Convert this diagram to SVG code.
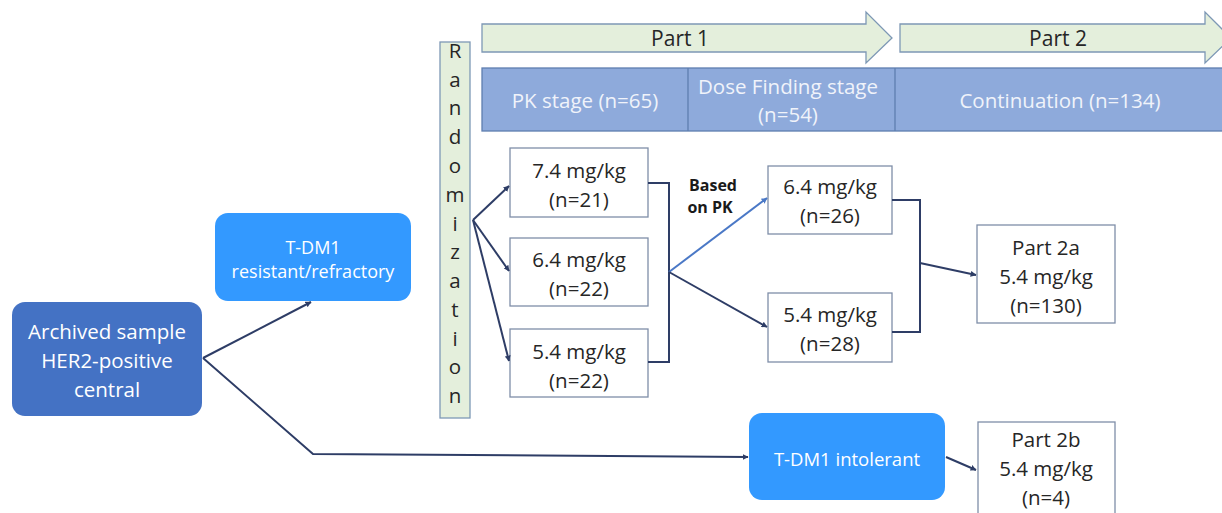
<svg xmlns="http://www.w3.org/2000/svg" width="1222" height="513" viewBox="0 0 1222 513">
<defs>
<style>
text{font-family:"Open Sans","Noto Sans","Liberation Sans",sans-serif;text-anchor:middle;dominant-baseline:central}
.box{fill:#ffffff;stroke:#7f8ea8;stroke-width:1.3}
.dk{fill:#262626;font-size:20.5px}
.wt{fill:#ffffff;font-size:20.5px}
.stage{fill:#f0f3fa;font-size:20.5px}
.ln{fill:none;stroke:#2e3d66;stroke-width:2}
.arr{fill:#e4efdc;stroke:#7d98b5;stroke-width:1.3}
</style>
<marker id="ah" viewBox="0 0 10 10" refX="9" refY="5" markerWidth="6" markerHeight="6" orient="auto" markerUnits="userSpaceOnUse" >
<path d="M0,0 L10,5 L0,10 z" fill="#2e3d66"/>
</marker>
<marker id="ahb" viewBox="0 0 10 10" refX="9" refY="5" markerWidth="6" markerHeight="6" orient="auto" markerUnits="userSpaceOnUse">
<path d="M0,0 L10,5 L0,10 z" fill="#4a78c6"/>
</marker>
</defs>
<rect width="1222" height="513" fill="#ffffff"/>

<g id="part1">
<path class="arr" d="M482,24 H866 V12 L892,38 L866,63 V52 H482 Z"/>
<text class="dk" x="680" y="38" style="font-size:21px">Part 1</text>
</g>
<g id="part2">
<path class="arr" d="M900,24 H1205 V12 L1231,38 L1205,63 V52 H900 Z"/>
<text class="dk" x="1058" y="38" style="font-size:21px">Part 2</text>
</g>

<g id="stages">
<rect x="482" y="68" width="745" height="63" fill="#8eaadb" stroke="#5f7eb0" stroke-width="1.3"/>
<line x1="688" y1="68" x2="688" y2="131" stroke="#5f7eb0" stroke-width="1.3"/>
<line x1="895" y1="68" x2="895" y2="131" stroke="#5f7eb0" stroke-width="1.3"/>
<text class="stage" x="585" y="100">PK stage (n=65)</text>
<text class="stage" x="788" y="86">Dose Finding stage</text>
<text class="stage" x="788" y="114">(n=54)</text>
<text class="stage" x="1060" y="100">Continuation (n=134)</text>
</g>

<g id="randomization">
<rect x="440" y="42" width="30" height="376" fill="#e4efdc" stroke="#7d98b5" stroke-width="1.3"/>
<text class="dk" x="455" y="50">R</text>
<text class="dk" x="455" y="79">a</text>
<text class="dk" x="455" y="107">n</text>
<text class="dk" x="455" y="136">d</text>
<text class="dk" x="455" y="165">o</text>
<text class="dk" x="455" y="194">m</text>
<text class="dk" x="455" y="223">i</text>
<text class="dk" x="455" y="251">z</text>
<text class="dk" x="455" y="280">a</text>
<text class="dk" x="455" y="309">t</text>
<text class="dk" x="455" y="338">i</text>
<text class="dk" x="455" y="366">o</text>
<text class="dk" x="455" y="395">n</text>
</g>

<g id="archived">
<rect x="12" y="302" width="190" height="114" rx="13" fill="#4472c4"/>
<text class="wt" x="107" y="331">Archived sample</text>
<text class="wt" x="107" y="360">HER2-positive</text>
<text class="wt" x="107" y="389">central</text>
</g>

<g id="resistant">
<rect x="215" y="213" width="196" height="88" rx="13" fill="#3399ff"/>
<text class="wt" x="313" y="247" style="font-size:18px">T-DM1</text>
<text class="wt" x="313" y="271" style="font-size:18px">resistant/refractory</text>
</g>

<g id="intolerant">
<rect x="749" y="413" width="196" height="87" rx="13" fill="#3399ff"/>
<text class="wt" x="847" y="458" style="font-size:18.5px">T-DM1 intolerant</text>
</g>

<g id="d74">
<rect class="box" x="510" y="148" width="138" height="69"/>
<text class="dk" x="579" y="170">7.4 mg/kg</text>
<text class="dk" x="579" y="199">(n=21)</text>
</g>
<g id="d64a">
<rect class="box" x="510" y="238" width="138" height="68"/>
<text class="dk" x="579" y="259">6.4 mg/kg</text>
<text class="dk" x="579" y="288">(n=22)</text>
</g>
<g id="d54a">
<rect class="box" x="510" y="329" width="138" height="68"/>
<text class="dk" x="579" y="351">5.4 mg/kg</text>
<text class="dk" x="579" y="380">(n=22)</text>
</g>

<g id="d64b">
<rect class="box" x="768" y="166" width="124" height="68"/>
<text class="dk" x="830" y="186">6.4 mg/kg</text>
<text class="dk" x="830" y="215">(n=26)</text>
</g>
<g id="d54b">
<rect class="box" x="768" y="293" width="124" height="69"/>
<text class="dk" x="830" y="314">5.4 mg/kg</text>
<text class="dk" x="830" y="343">(n=28)</text>
</g>

<g id="part2a">
<rect class="box" x="977" y="225" width="138" height="98"/>
<text class="dk" x="1046" y="247">Part 2a</text>
<text class="dk" x="1046" y="276">5.4 mg/kg</text>
<text class="dk" x="1046" y="305">(n=130)</text>
</g>
<g id="part2b">
<rect class="box" x="978" y="422" width="137" height="100"/>
<text class="dk" x="1046" y="439">Part 2b</text>
<text class="dk" x="1046" y="468">5.4 mg/kg</text>
<text class="dk" x="1046" y="497">(n=4)</text>
</g>

<g id="basedpk">
<text x="713" y="185" style="font-size:16px;font-weight:bold;fill:#1a1a1a">Based</text>
<text x="710" y="207" style="font-size:16px;font-weight:bold;fill:#1a1a1a">on PK</text>
</g>

<g id="connectors">
<line class="ln" x1="203" y1="358" x2="311" y2="302" marker-end="url(#ah)"/>
<polyline class="ln" points="203,358 313,454 748,457" marker-end="url(#ah)"/>
<line class="ln" x1="473" y1="220" x2="509" y2="186" marker-end="url(#ah)"/>
<line class="ln" x1="473" y1="220" x2="509" y2="271" marker-end="url(#ah)"/>
<line class="ln" x1="473" y1="220" x2="509" y2="361" marker-end="url(#ah)"/>
<polyline class="ln" points="648,183 669,183 669,362 648,362"/>
<line x1="669" y1="272" x2="767" y2="198" stroke="#4a78c6" stroke-width="2" marker-end="url(#ahb)"/>
<line class="ln" x1="669" y1="272" x2="767" y2="327" marker-end="url(#ah)"/>
<polyline class="ln" points="892,200 920,200 920,332 892,332"/>
<line class="ln" x1="920" y1="263" x2="976" y2="275" marker-end="url(#ah)"/>
<line class="ln" x1="946" y1="457" x2="976" y2="470" marker-end="url(#ah)"/>
</g>
</svg>
